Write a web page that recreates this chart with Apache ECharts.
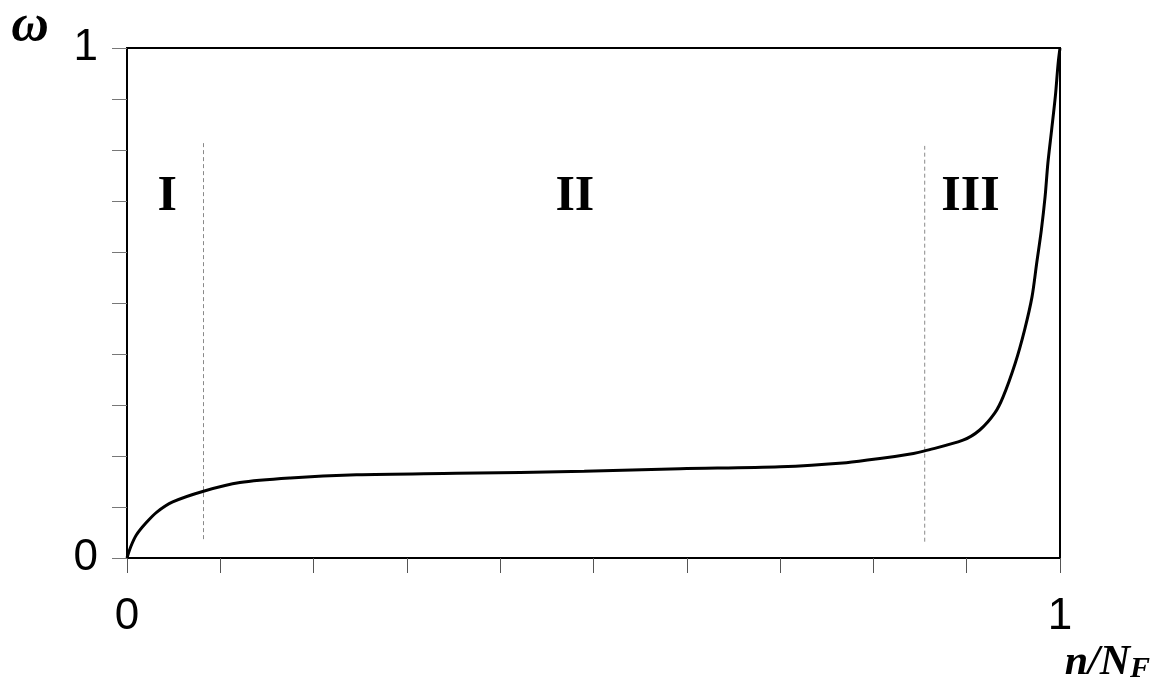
<!DOCTYPE html>
<html>
<head>
<meta charset="utf-8">
<script src="https://cdn.jsdelivr.net/npm/echarts@6/dist/echarts.min.js"></script>
<style>
  html, body { margin: 0; padding: 0; background: #fff; }
  #chart { width: 1157px; height: 695px; }
</style>
</head>
<body>
<div id="chart"></div>
<script>
// Curve: relative life n/N_F vs damage ω
const curveX = [0, 0.004, 0.010, 0.020, 0.032, 0.049, 0.082, 0.121, 0.175, 0.246, 0.353, 0.490, 0.593, 0.700, 0.771, 0.807, 0.843, 0.855, 0.896, 0.914, 0.930, 0.939, 0.952, 0.962, 0.970, 0.975, 0.980, 0.984, 0.987, 0.991, 0.995, 0.998, 1.000];
const curveY = [0, 0.022, 0.045, 0.068, 0.090, 0.110, 0.131, 0.148, 0.157, 0.163, 0.166, 0.170, 0.175, 0.179, 0.187, 0.195, 0.205, 0.210, 0.231, 0.251, 0.284, 0.316, 0.382, 0.447, 0.512, 0.578, 0.643, 0.708, 0.774, 0.839, 0.905, 0.970, 1.000];

// Stage boundaries (dashed lines)
const boundaryX = [0.082, 0.855];
const boundaryYTop = [0.814, 0.808];
const boundaryYBottom = [0.037, 0.032];

// Stage labels
const stageLabels = ['I', 'II', 'III'];
const stageLabelX = [0.043, 0.480, 0.904];
const stageLabelY = [0.708, 0.708, 0.708];

// Tick labels
const tickLabelsShown = { '0': '0', '1': '1' };

const curveData = curveX.map((x, i) => [x, curveY[i]]);

const boundarySeries = boundaryX.map((x, i) => ({
  type: 'line',
  data: [[x, boundaryYBottom[i]], [x, boundaryYTop[i]]],
  symbol: 'none',
  silent: true,
  lineStyle: { color: '#8a8a8a', width: 1, type: [4, 3] },
  z: 1
}));

const chart = echarts.init(document.getElementById('chart'), null, { renderer: 'canvas' });

function fmt(v) {
  const r = Math.round(v * 10) / 10;
  if (Math.abs(r) < 1e-9) return tickLabelsShown['0'];
  if (Math.abs(r - 1) < 1e-9) return tickLabelsShown['1'];
  return '';
}

const serifBI = { fontFamily: 'Liberation Serif', fontStyle: 'italic', fontWeight: 'bold', color: '#000' };

chart.setOption({
  animation: false,
  backgroundColor: '#fff',
  grid: {
    left: 127, right: 97, top: 48, bottom: 137,
    containLabel: false,
    outerBoundsMode: 'none',
    show: true, borderColor: '#000', borderWidth: 2, backgroundColor: 'transparent'
  },
  xAxis: {
    type: 'value',
    min: 0, max: 1, interval: 0.1,
    name: '{a|n/N}{b|F}',
    nameLocation: 'end',
    nameGap: 90,
    nameMoveOverlap: false,
    nameTextStyle: {
      align: 'right',
      verticalAlign: 'top',
      padding: [84, 0, 0, 0],
      rich: {
        a: Object.assign({ fontSize: 42, lineHeight: 42, verticalAlign: 'top' }, serifBI),
        b: Object.assign({ fontSize: 30, lineHeight: 30, verticalAlign: 'bottom', padding: [27, 0, 0, 0] }, serifBI)
      }
    },
    axisLine: { show: true, onZero: false, lineStyle: { color: '#000', width: 2 } },
    axisTick: { show: true, inside: false, length: 15, lineStyle: { color: '#555', width: 1 } },
    splitLine: { show: false },
    axisLabel: {
      formatter: fmt,
      margin: 37,
      fontFamily: 'Liberation Sans',
      fontSize: 44,
      color: '#000',
      showMinLabel: true, showMaxLabel: true
    }
  },
  yAxis: {
    type: 'value',
    min: 0, max: 1, interval: 0.1,
    name: 'ω',
    nameLocation: 'end',
    nameGap: -5,
    nameMoveOverlap: false,
    nameTextStyle: Object.assign({ fontSize: 52, align: 'center', padding: [0, 194, 0, 0] }, serifBI),
    axisLine: { show: true, onZero: false, lineStyle: { color: '#000', width: 2 } },
    axisTick: { show: true, inside: false, length: 15, lineStyle: { color: '#777', width: 1 } },
    splitLine: { show: false },
    axisLabel: {
      formatter: fmt,
      margin: 29,
      fontFamily: 'Liberation Sans',
      fontSize: 44,
      color: '#000',
      showMinLabel: true, showMaxLabel: true
    }
  },
  series: [
    ...boundarySeries,
    {
      type: 'line',
      data: curveData,
      smooth: 0.3,
      symbol: 'none',
      lineStyle: { color: '#000', width: 3 },
      z: 3
    },
    {
      type: 'scatter',
      data: stageLabelX.map((x, i) => ({ value: [x, stageLabelY[i]], name: stageLabels[i] })),
      symbolSize: 0,
      silent: true,
      itemStyle: { opacity: 1 },
      label: {
        show: true,
        position: 'inside',
        formatter: p => p.name,
        fontFamily: 'Liberation Serif',
        fontWeight: 'bold',
        fontSize: 50,
        color: '#000',
        opacity: 1
      },
      z: 4
    }
  ]
});
</script>
</body>
</html>
